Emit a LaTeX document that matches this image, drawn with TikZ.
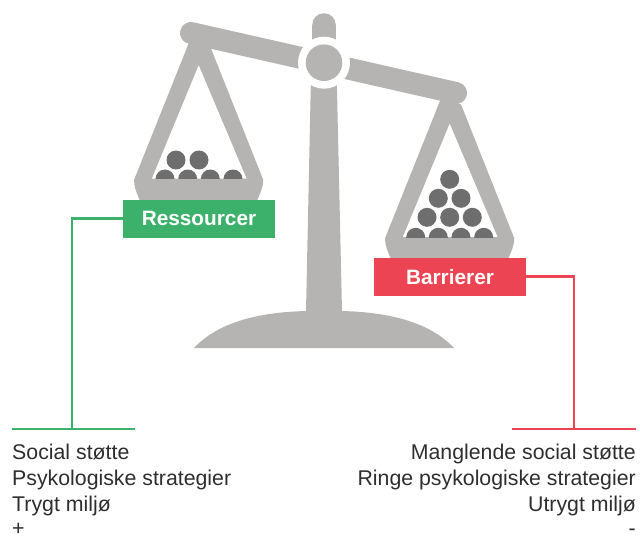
\documentclass[tikz,border=0pt]{standalone}
\usepackage{fontspec}
\setmainfont{Liberation Sans}
\definecolor{scalegray}{HTML}{B5B4B2}
\definecolor{ballgray}{HTML}{6E6E6E}
\definecolor{resgreen}{HTML}{3CB16B}
\definecolor{barred}{HTML}{EC4452}
\definecolor{txt}{HTML}{2E2E2E}
\tikzset{
  scalepart/.style={fill=scalegray,draw=none},
  ball/.style={fill=ballgray,draw=none},
  tag/.style={draw=none,text=white,font=\fontsize{20.8}{24}\selectfont\bfseries,minimum width=152pt,minimum height=37.7pt,inner sep=0pt},
  link/.style={line width=2.8pt},
  listing/.style={text=txt,font=\fontsize{21.3}{26}\selectfont,inner sep=0pt}
}
\begin{document}
\begin{tikzpicture}[x=1pt,y=-1pt]
\useasboundingbox (0,0) rectangle (640,536);
% column
\fill[scalepart] (312.2,25) arc[start angle=180,end angle=360,radius=11.8] -- (335.8,60) -- (337,90) -- (342,311) -- (306,311) -- (310.7,90) -- (312.2,60) -- cycle;
% base
\fill[scalepart] (194,348) .. controls (222,318) and (270,312) .. (306,311) -- (342,311) .. controls (378,312) and (426,318) .. (454,348) -- cycle;
% beam
\draw[scalegray,line width=22pt,line cap=round] (191,33) -- (456,93);
% left pan
\fill[scalepart,even odd rule] (190,40) -- (134,180) .. controls (134,187) and (137,194) .. (141,203) -- (256,203) .. controls (260,194) and (263.3,187) .. (263.3,180) -- (210,46) -- cycle
  (198.7,65) -- (151.7,178.7) -- (246.7,178.7) -- cycle;
% right pan
\begin{scope}[shift={(251,58.4)}]
\fill[scalepart,even odd rule] (190,40) -- (134,180) .. controls (134,187) and (137,194) .. (141,203) -- (256,203) .. controls (260,194) and (263.3,187) .. (263.3,180) -- (210,46) -- cycle
  (198.7,65) -- (151.7,178.7) -- (246.7,178.7) -- cycle;
\end{scope}
% left balls
\begin{scope}
\clip (130,140) rectangle (270,178.7);
\foreach \px/\py in {176/160,199/160,165/179,187.7/179,210.3/179,233/179}
  \fill[ball] (\px,\py) circle[radius=9.5];
\end{scope}
% right balls
\begin{scope}
\clip (380,160) rectangle (520,237.3);
\foreach \px/\py in {449.7/179.3,438.3/198.3,461/198.3,427/217.3,449.7/217.3,472.3/217.3,415.7/237.3,438.3/237.3,461/237.3,483.7/237.3}
  \fill[ball] (\px,\py) circle[radius=9.5];
\end{scope}
% pivot
\fill[white] (324,62.7) circle[radius=26];
\fill[scalepart] (324,62.7) circle[radius=18.3];
% connectors
\coordinate (gleft) at (12,429);
\coordinate (gright) at (135,429);
\coordinate (gjoin) at (72,429);
\coordinate (rleft) at (512,429);
\coordinate (rright) at (636,429);
\coordinate (rjoin) at (574,429);
\node[tag,fill=resgreen] (res) at (199,218.85) {Ressourcer};
\node[tag,fill=barred] (bar) at (450,276.85) {Barrierer};
\draw[link,resgreen] (res.west) -| (gjoin);
\draw[link,resgreen] (gleft) -- (gright);
\draw[link,barred] (bar.east) -| (rjoin);
\draw[link,barred] (rleft) -- (rright);
% texts
\node[listing,anchor=north west,align=left] (lefttext) at (12,443.5) {Social støtte\\Psykologiske strategier\\Trygt miljø};
\node[listing,anchor=north east,align=right] (righttext) at (636,443.5) {Manglende social støtte\\Ringe psykologiske strategier\\Utrygt miljø};
\node[listing,anchor=base west] (plus) at (12,535.5) {+};
\node[listing,anchor=base east] (minus) at (636,535.5) {-};
\end{tikzpicture}
\end{document}
